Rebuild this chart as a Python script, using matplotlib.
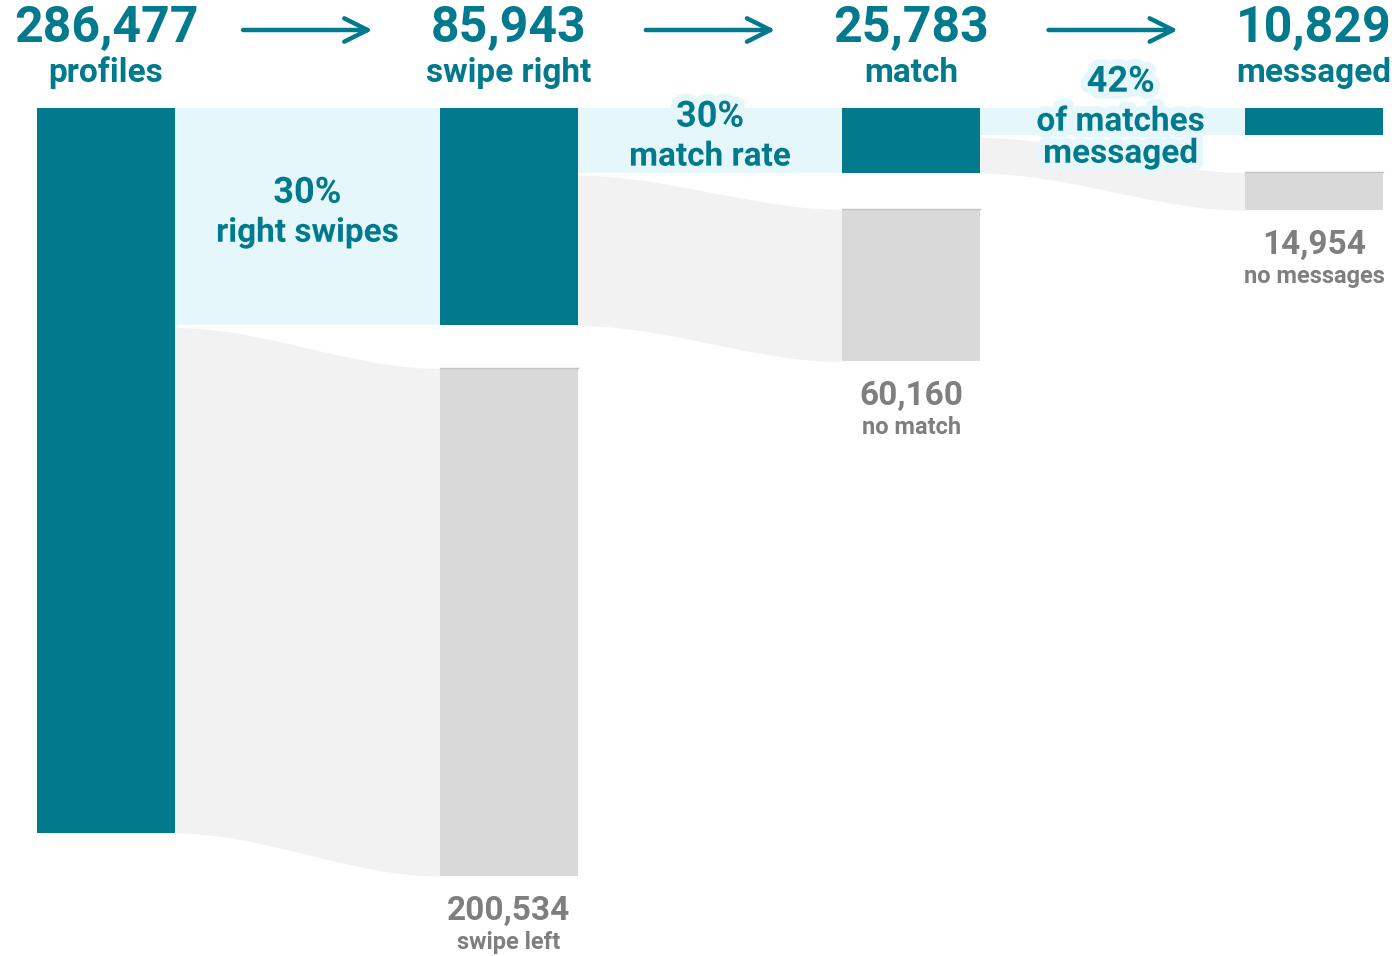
import numpy as np
import matplotlib
matplotlib.use('Agg')
import matplotlib.pyplot as plt
import matplotlib.patheffects as pe

# funnel data
stage_labels = ['profiles', 'swipe right', 'match', 'messaged']
stage_values = [286477, 85943, 25783, 10829]
drop_labels = ['swipe left', 'no match', 'no messages']
drop_values = [200534, 60160, 14954]
rate_texts = ['right swipes', 'match rate', 'of matches\nmessaged']

TEAL = '#007a8c'
LIGHT = '#e6f7fb'
FLOW_GREY = '#f2f2f2'
NODE_GREY = '#d9d9d9'
TEXT_GREY = '#7f7f7f'

plt.rcParams['font.family'] = ['Roboto', 'DejaVu Sans']

fig = plt.figure(figsize=(13.99, 9.56), dpi=100)
ax = fig.add_axes([0, 0, 1, 1])
ax.set_xlim(0, 1399)
ax.set_ylim(956, 0)
ax.axis('off')

# layout (pixels)
top = 108
k = 725 / stage_values[0]      # px per profile
col_x = [37 + 402.7 * i for i in range(4)]
w = 138
gaps = [43, 36, 37]


def flow(x0, x1, a0, a1, b0, b1, color):
    t = np.linspace(0, 1, 200)
    s = 3 * t ** 2 - 2 * t ** 3
    xs = x0 + (x1 - x0) * t
    ax.fill_between(xs, a0 + (b0 - a0) * s, a1 + (b1 - a1) * s,
                    color=color, lw=0, zorder=1)


halo = [pe.withStroke(linewidth=10, foreground=LIGHT)]

for i in range(4):
    x = col_x[i]
    cx = x + w / 2
    h = k * stage_values[i]
    ax.bar(cx, h, width=w, bottom=top, color=TEAL, zorder=2)
    ax.text(cx, 28, '{:,}'.format(stage_values[i]), color=TEAL, fontsize=36,
            fontweight='bold', ha='center', va='center')
    ax.text(cx, 73, stage_labels[i], color=TEAL, fontsize=24,
            fontweight='bold', ha='center', va='center')

for i in range(3):
    x_src = col_x[i] + w
    x_dst = col_x[i + 1]
    kept_end = top + k * stage_values[i + 1]
    src_end = top + k * stage_values[i]
    drop_top = kept_end + gaps[i]
    drop_end = drop_top + k * drop_values[i]

    # kept flow (flat) and dropped flow (curved)
    flow(x_src, x_dst, top, kept_end, top, kept_end, LIGHT)
    flow(x_src, x_dst, kept_end + 2, src_end, drop_top, drop_end, FLOW_GREY)

    cx = x_dst + w / 2
    ax.bar(cx, drop_end - drop_top, width=w, bottom=drop_top,
           color=NODE_GREY, zorder=2)
    ax.plot([x_dst, x_dst + w], [drop_top, drop_top], color='#c4c4c4',
            lw=1, zorder=3)
    ax.text(cx, drop_end + 35, '{:,}'.format(drop_values[i]), color=TEXT_GREY,
            fontsize=24, fontweight='bold', ha='center', va='center')
    ax.text(cx, drop_end + 66, drop_labels[i], color=TEXT_GREY, fontsize=17,
            fontweight='bold', ha='center', va='center')

    # arrow between headers
    mid = (col_x[i] + col_x[i + 1] + w) / 2
    ax.annotate('', xy=(mid + 68, 30), xytext=(mid - 67, 30),
                arrowprops=dict(arrowstyle='->', color=TEAL, lw=3.2,
                                mutation_scale=42))

    # rate label: percentage then description lines
    rate = '{}%'.format(round(100 * stage_values[i + 1] / stage_values[i]))
    lines = rate_texts[i].split('\n')
    lx = (x_src + x_dst) / 2 + (8 if i == 2 else 0)
    cy = (top + kept_end) / 2 - 4
    block = 40 + 32 * (len(lines) - 1)
    y0 = cy - block / 2
    ax.text(lx, y0, rate, color=TEAL, fontsize=26, fontweight='bold',
            ha='center', va='center', zorder=5, path_effects=halo)
    for j, line in enumerate(lines):
        ax.text(lx, y0 + 40 + 32 * j, line, color=TEAL, fontsize=24,
                fontweight='bold', ha='center', va='center', zorder=5,
                path_effects=halo)

fig.savefig('out.png', dpi=100, facecolor='white')
